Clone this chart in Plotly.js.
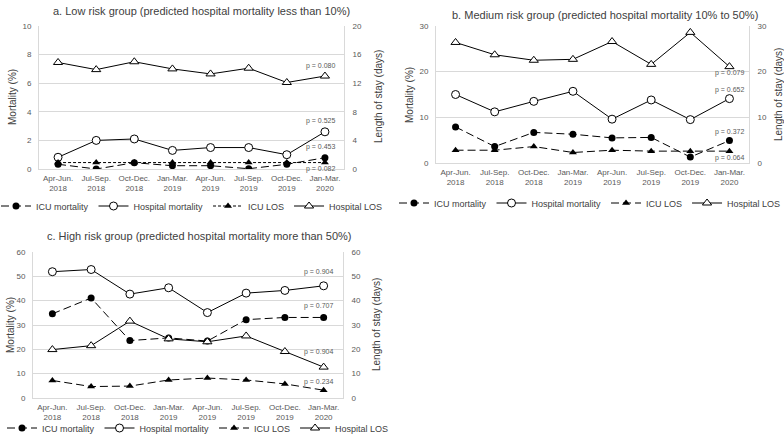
<!DOCTYPE html>
<html>
<head>
<meta charset="utf-8">
<script src="https://cdn.plot.ly/plotly-3.0.1.min.js"></script>
<style>
    html, body { margin: 0; padding: 0; background: #fff; }
    #chart { width: 784px; height: 434px; }
</style>
</head>
<body>
<div id="chart"></div>
<script>
const W = 784;
const H = 434;
const FONT = "Arial, 'Liberation Sans', sans-serif";
const GRID = "#d9d9d9";
const TICK_COLOR = "#595959";
const TEXT_COLOR = "#404040";

const QUARTERS = [
    "Apr-Jun.<br>2018", "Jul-Sep.<br>2018", "Oct-Dec.<br>2018", "Jan-Mar.<br>2019",
    "Apr-Jun.<br>2019", "Jul-Sep.<br>2019", "Oct-Dec.<br>2019", "Jan-Mar.<br>2020",
];

const SERIES_NAMES = ["ICU mortality", "Hospital mortality", "ICU LOS", "Hospital LOS"];

// a. low risk
const lowIcuMort = [0.33, 0.0, 0.44, 0.23, 0.23, 0.02, 0.33, 0.79];
const lowHospMort = [0.82, 2.0, 2.1, 1.3, 1.5, 1.5, 1.0, 2.6];
const lowIcuLos = [0.9, 0.9, 0.9, 0.9, 0.9, 0.9, 0.9, 0.9];
const lowHospLos = [14.9, 13.9, 15.0, 14.0, 13.3, 14.1, 12.1, 13.0];
const lowP = ["p = 0.080", "p = 0.525", "p = 0.453", "p = 0.082"];

// b. medium risk
const medIcuMort = [7.9, 3.6, 6.7, 6.3, 5.5, 5.6, 1.3, 4.9];
const medHospMort = [15.0, 11.2, 13.5, 15.7, 9.6, 13.8, 9.5, 14.1];
const medIcuLos = [2.8, 2.8, 3.6, 2.3, 2.8, 2.6, 2.6, 2.6];
const medHospLos = [26.4, 23.7, 22.5, 22.7, 26.6, 21.6, 28.6, 21.1];
const medP = ["p = 0.079", "p = 0.652", "p = 0.372", "p = 0.064"];

// c. high risk
const highIcuMort = [34.6, 41.1, 23.6, 24.7, 23.4, 32.2, 33.1, 33.1];
const highHospMort = [51.9, 52.8, 42.7, 45.3, 35.1, 43.1, 44.2, 46.1];
const highIcuLos = [7.2, 4.7, 4.9, 7.4, 8.2, 7.4, 5.8, 3.2];
const highHospLos = [19.9, 21.5, 31.6, 24.3, 23.1, 25.5, 19.1, 12.7];
const highP = ["p = 0.904", "p = 0.707", "p = 0.904", "p = 0.234"];

const TITLES = [
    "a. Low risk group (predicted hospital mortality less than 10%)",
    "b. Medium risk group (predicted hospital mortality 10% to 50%)",
    "c. High risk group (predicted hospital mortality more than 50%)",
];

// pixel helpers -> paper coords
const px = (v) => v / W;
const py = (v) => 1 - v / H;

function panelTraces(xa, yl, yr, legend, series, losDash) {
    const [icuMort, hospMort, icuLos, hospLos] = series;
    const base = { x: QUARTERS, xaxis: xa, mode: "lines+markers", legend };
    return [
        {
            ...base, y: icuMort, yaxis: yl, name: SERIES_NAMES[0],
            line: { color: "#000", width: 1, dash: "8px,4px" },
            marker: { symbol: "circle", size: 7, color: "#000" },
        },
        {
            ...base, y: hospMort, yaxis: yl, name: SERIES_NAMES[1],
            line: { color: "#000", width: 1 },
            marker: { symbol: "circle", size: 8, color: "#fff", line: { color: "#000", width: 1 } },
        },
        {
            ...base, y: icuLos, yaxis: yr, name: SERIES_NAMES[2],
            line: { color: "#000", width: 1, dash: losDash },
            marker: { symbol: "triangle-up", size: 7, color: "#000" },
        },
        {
            ...base, y: hospLos, yaxis: yr, name: SERIES_NAMES[3],
            line: { color: "#000", width: 1 },
            marker: { symbol: "triangle-up", size: 8, color: "#fff", line: { color: "#000", width: 1 } },
        },
    ];
}

const traces = [
    ...panelTraces("x", "y", "y2", "legend", [lowIcuMort, lowHospMort, lowIcuLos, lowHospLos], "3px,2px"),
    ...panelTraces("x2", "y3", "y4", "legend2", [medIcuMort, medHospMort, medIcuLos, medHospLos], "8px,4px"),
    ...panelTraces("x3", "y5", "y6", "legend3", [highIcuMort, highHospMort, highIcuLos, highHospLos], "8px,4px"),
];

const tickfont = { family: FONT, size: 8, color: TICK_COLOR };

function xAxis(domain, anchor) {
    return {
        domain, anchor, type: "category", range: [-0.5, 7.5], automargin: false,
        showline: true, linecolor: GRID, linewidth: 1,
        showgrid: false, zeroline: false, ticks: "", tickfont,
        ticklabelstandoff: 1, fixedrange: true,
    };
}

function yLeft(domain, anchor, max, dtick) {
    return {
        domain, anchor, range: [0, max], dtick, automargin: false,
        showline: true, linecolor: GRID, linewidth: 1,
        gridcolor: GRID, gridwidth: 1, zeroline: false,
        ticks: "", tickfont, ticklabelstandoff: 5, fixedrange: true,
    };
}

function yRight(overlaying, anchor, max, dtick) {
    return {
        overlaying, anchor, side: "right", range: [0, max], dtick, automargin: false,
        showline: true, linecolor: GRID, linewidth: 1,
        showgrid: false, zeroline: false,
        ticks: "", tickfont, ticklabelstandoff: 6, fixedrange: true,
    };
}

function legendAt(xc, yc) {
    return {
        orientation: "h", x: px(xc), y: py(yc), xanchor: "center", yanchor: "middle",
        font: { family: FONT, size: 9, color: TEXT_COLOR },
        itemwidth: 30, tracegroupgap: 0, bgcolor: "rgba(0,0,0,0)",
    };
}

function titleNote(text, xc, yc) {
    return {
        text, xref: "paper", yref: "paper", x: px(xc), y: py(yc),
        xanchor: "center", yanchor: "middle", showarrow: false,
        font: { family: FONT, size: 11, color: TEXT_COLOR },
    };
}

function axisNote(text, xc, yc) {
    return {
        text, xref: "paper", yref: "paper", x: px(xc), y: py(yc),
        xanchor: "center", yanchor: "middle", showarrow: false, textangle: -90,
        font: { family: FONT, size: 10, color: TEXT_COLOR },
    };
}

function pNotes(labels, xref, yref, yvals, shift) {
    return labels.map((text, i) => ({
        text, xref, yref, x: 7, y: yvals[i], xshift: shift,
        xanchor: "center", yanchor: "middle", showarrow: false,
        font: { family: FONT, size: 7, color: TICK_COLOR },
    }));
}

const annotations = [
    titleNote(TITLES[0], 202, 11),
    titleNote(TITLES[1], 605, 15),
    titleNote(TITLES[2], 199, 236),
    axisNote("Mortality (%)", 13, 97),
    axisNote("Length of stay (days)", 379, 97),
    axisNote("Mortality (%)", 409, 95),
    axisNote("Length of stay (days)", 778, 95),
    axisNote("Mortality (%)", 10, 325),
    axisNote("Length of stay (days)", 376, 325),
    ...pNotes(lowP, "x", "y", [7.2, 3.38, 1.56, 0.0], -4),
    ...pNotes(medP, "x2", "y3", [19.8, 16.0, 6.7, 1.0], 0),
    ...pNotes(highP, "x3", "y5", [51.8, 37.9, 19.1, 6.5], -5),
];

const layout = {
    width: W, height: H,
    margin: { t: 0, b: 0, l: 0, r: 0, autoexpand: false },
    paper_bgcolor: "#fff",
    plot_bgcolor: "rgba(0,0,0,0)",
    font: { family: FONT, color: TEXT_COLOR },
    showlegend: true,
    xaxis: xAxis([px(39), px(344)], "y"),
    yaxis: yLeft([py(169), py(26)], "x", 10, 2),
    yaxis2: yRight("y", "x", 20, 4),
    xaxis2: xAxis([px(436), px(749)], "y3"),
    yaxis3: yLeft([py(163), py(26)], "x2", 30, 10),
    yaxis4: yRight("y3", "x2", 30, 10),
    xaxis3: xAxis([px(33), px(343)], "y5"),
    yaxis5: yLeft([py(398), py(252)], "x3", 60, 10),
    yaxis6: yRight("y5", "x3", 60, 10),
    legend: legendAt(192, 206),
    legend2: legendAt(590, 203),
    legend3: legendAt(198, 428),
    annotations,
};

Plotly.newPlot("chart", traces, layout, { displayModeBar: false, staticPlot: true });
</script>
</body>
</html>
